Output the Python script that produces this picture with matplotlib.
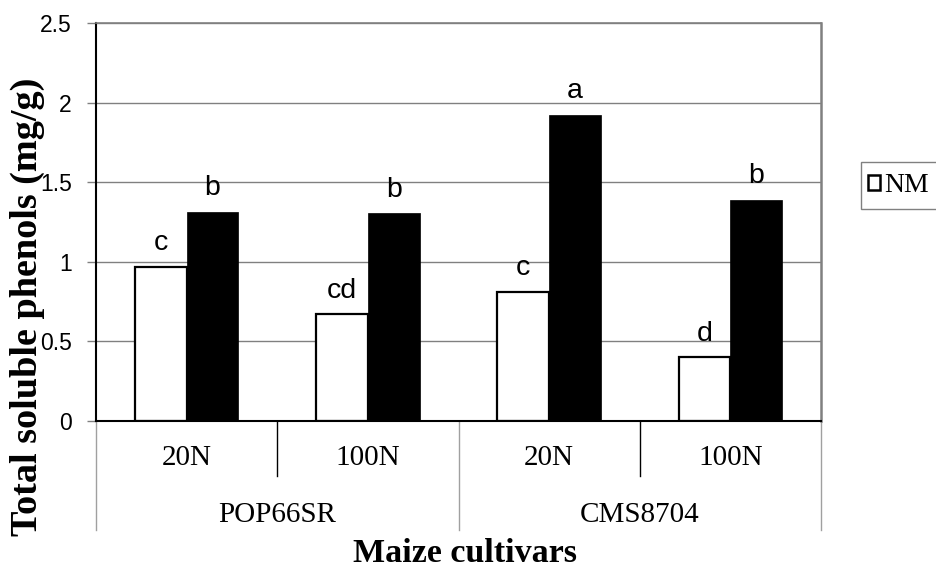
import matplotlib
matplotlib.use('Agg')
import matplotlib.pyplot as plt
import matplotlib.transforms as transforms
from matplotlib.patches import Patch, Rectangle
import numpy as np

# data
n_levels = ['20N', '100N', '20N', '100N']
cultivars = ['POP66SR', 'CMS8704']
nm_values = [0.97, 0.67, 0.81, 0.40]
am_values = [1.315, 1.305, 1.925, 1.39]
nm_letters = ['c', 'cd', 'c', 'd']
am_letters = ['b', 'b', 'a', 'b']
yticks = [0, 0.5, 1, 1.5, 2, 2.5]
ytick_labels = ['0', '0.5', '1', '1.5', '2', '2.5']

serif = 'Liberation Serif'
sans = 'Liberation Sans'
W, H = 937, 573

fig = plt.figure(figsize=(W/100, H/100), dpi=100)
ax = fig.add_axes([96/W, 1 - 421/H, (821 - 96)/W, (421 - 23)/H])

x = np.arange(len(n_levels))
w = 1 / 3.5
ax.bar(x - w/2, nm_values, w, color='white', edgecolor='black', linewidth=1.6, zorder=3)
ax.bar(x + w/2, am_values, w, color='black', edgecolor='black', linewidth=0.5, zorder=3)

# significance letters above each bar
for xi, v, t in zip(x - w/2, nm_values, nm_letters):
    ax.annotate(t, (xi, v), xytext=(0, 12), textcoords='offset points',
                ha='center', va='baseline', fontsize=20.5, family=sans)
for xi, v, t in zip(x + w/2, am_values, am_letters):
    ax.annotate(t, (xi, v), xytext=(0, 12), textcoords='offset points',
                ha='center', va='baseline', fontsize=20.5, family=sans)

ax.set_xlim(-0.5, len(n_levels) - 0.5)
ax.set_ylim(0, 2.5)
ax.set_yticks(yticks)
ax.set_yticklabels(ytick_labels, fontsize=16.5, family=sans)
ax.tick_params(axis='y', length=6.5, width=1, color='#808080', pad=11)
ax.set_xticks([])
ax.yaxis.grid(True, color='#808080', linewidth=1, zorder=0)
ax.set_axisbelow(True)

ax.spines['left'].set_color('black')
ax.spines['left'].set_linewidth(1.5)
ax.spines['bottom'].set_color('black')
ax.spines['bottom'].set_linewidth(1.5)
ax.spines['bottom'].set_zorder(4)
ax.spines['top'].set_color('#808080')
ax.spines['top'].set_linewidth(1.2)
ax.spines['right'].set_color('#808080')
ax.spines['right'].set_linewidth(1.8)

# two-level category axis
trans = transforms.blended_transform_factory(ax.transData, ax.transAxes)
for xi, lab in zip(x, n_levels):
    ax.text(xi, -0.093, lab, transform=trans, ha='center', va='center',
            fontsize=21, family=serif, clip_on=False)
for i, lab in enumerate(cultivars):
    ax.text(2*i + 0.5, -0.236, lab, transform=trans, ha='center', va='center',
            fontsize=21, family=serif, clip_on=False)
for xi in [0.5, 2.5]:
    ax.plot([xi, xi], [0, -0.138], transform=trans, color='black', linewidth=1, clip_on=False)
for xi in [-0.5, 1.5, 3.5]:
    ax.plot([xi, xi], [0, -0.274], transform=trans, color='#a0a0a0', linewidth=1, clip_on=False)

fig.text(27/W, 1 - 307/H, 'Total soluble phenols (mg/g)', rotation=90,
         ha='center', va='center', fontsize=27.5, fontweight='bold', family=serif)
fig.text(465/W, 1 - 554/H, 'Maize cultivars', ha='center', va='center',
         fontsize=24.5, fontweight='bold', family=serif)

# legend: box runs past the right edge of the picture
fig.patches.append(Rectangle((861/W, 1 - 209/H), 120/W, 47/H, transform=fig.transFigure,
                             facecolor='white', edgecolor='#808080', linewidth=1))
handles = [Patch(facecolor='white', edgecolor='black', linewidth=1.8, label='NM')]
leg = fig.legend(handles=handles, loc='center left',
                 bbox_to_anchor=(868/W, 1 - 185.5/H),
                 prop={'family': serif, 'size': 20}, frameon=False,
                 handlelength=0.45, handleheight=0.45, handletextpad=0.15,
                 borderaxespad=0, borderpad=0)

fig.savefig('out.png', dpi=100)
